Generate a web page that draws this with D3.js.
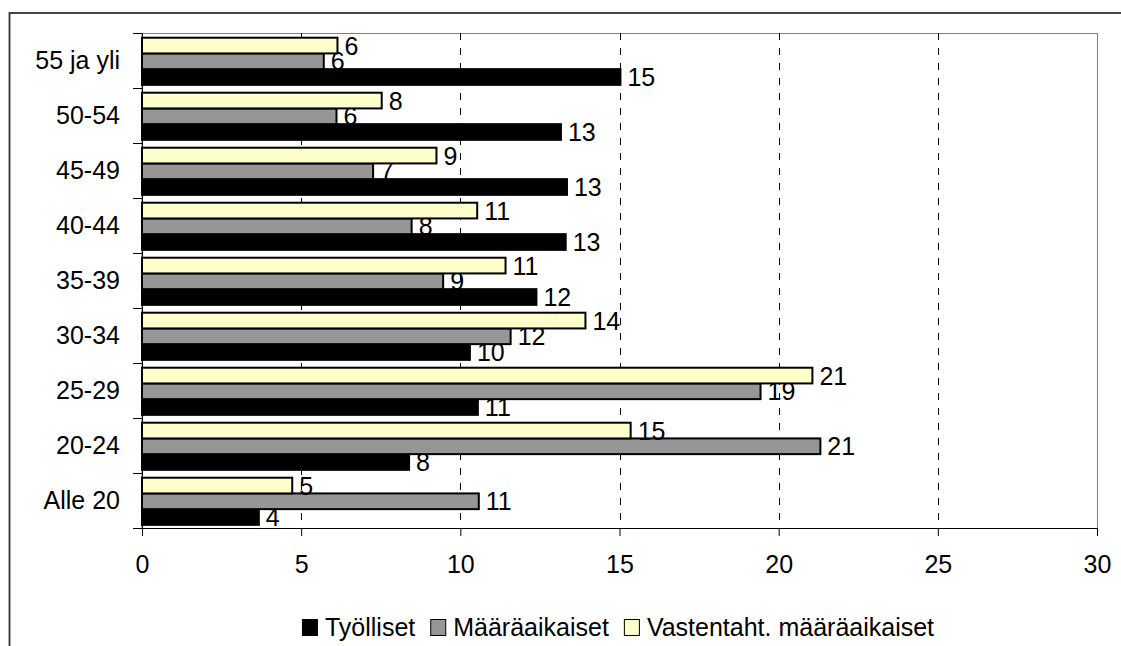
<!DOCTYPE html>
<html>
<head>
<meta charset="utf-8">
<script src="https://cdn.jsdelivr.net/npm/d3@7"></script>
<style>
  body { margin: 0; background: #fff; overflow: hidden; }
  svg { display: block; font-family: 'Liberation Sans', Arial, sans-serif; }
</style>
</head>
<body>
<div id="chart"></div>
<script>
const categories = ['Alle 20', '20-24', '25-29', '30-34', '35-39', '40-44', '45-49', '50-54', '55 ja yli']
const tyolliset = [3.67, 8.39, 10.55, 10.30, 12.39, 13.31, 13.35, 13.16, 15.03]
const maaraaikaiset = [10.58, 21.31, 19.43, 11.58, 9.46, 8.47, 7.26, 6.11, 5.71]
const vastentaht = [4.72, 15.35, 21.06, 13.93, 11.42, 10.53, 9.25, 7.53, 6.14]
const seriesNames = ['Työlliset', 'Määräaikaiset', 'Vastentaht. määräaikaiset']
const seriesColors = ['#000000', '#969696', '#ffffcc']
const xTicks = [0, 5, 10, 15, 20, 25, 30]

const width = 1121
const height = 646
const plot = { left: 142, top: 33, right: 1097, bottom: 528 }
const fontSize = 25

const svg = d3.select('#chart').append('svg').attr('width', width).attr('height', height)

// outer chart frame (cut off at right and bottom like the screenshot)
svg.append('rect')
  .attr('x', 9.5).attr('y', 13)
  .attr('width', 1200).attr('height', 700)
  .attr('fill', 'none').attr('stroke', '#333').attr('stroke-width', 1.8)

const x = d3.scaleLinear().domain([0, 30]).range([plot.left, plot.right])
const y = d3.scaleBand().domain(categories.slice().reverse()).range([plot.top, plot.bottom])
const inner = d3.scaleBand().domain([2, 1, 0]).range([0, y.bandwidth()]).paddingOuter(0.25).align(0.6)

// plot area border
svg.append('rect')
  .attr('x', plot.left).attr('y', plot.top + 0.5)
  .attr('width', plot.right - plot.left + 0.5).attr('height', plot.bottom - plot.top)
  .attr('fill', 'none').attr('stroke', '#808080').attr('stroke-width', 1)

svg.append('g')
  .selectAll('line')
  .data(xTicks.filter(d => d > 0 && d < 30))
  .enter()
  .append('line')
  .attr('x1', d => Math.round(x(d)) + 0.5)
  .attr('x2', d => Math.round(x(d)) + 0.5)
  .attr('y1', plot.top)
  .attr('y2', plot.bottom)
  .attr('stroke', '#000')
  .attr('stroke-dasharray', '7,8')

const series = [tyolliset, maaraaikaiset, vastentaht]

series.forEach(function (values, s) {
  const g = svg.append('g')
  const rows = categories.map((c, i) => ({ cat: c, value: values[i] }))

  g.selectAll('rect')
    .data(rows)
    .enter()
    .append('rect')
    .attr('x', x(0))
    .attr('y', d => y(d.cat) + inner(s))
    .attr('width', d => x(d.value) - x(0))
    .attr('height', inner.bandwidth())
    .attr('fill', seriesColors[s])
    .attr('stroke', '#000')
    .attr('stroke-width', 2)

  g.selectAll('text')
    .data(rows)
    .enter()
    .append('text')
    .attr('x', d => x(d.value) + 7)
    .attr('y', d => y(d.cat) + inner(s) + inner.bandwidth() / 2)
    .attr('dy', '0.36em')
    .attr('font-size', fontSize)
    .text(d => d3.format('.0f')(d.value))
})

// x axis
const xAxis = svg.append('g')
  .attr('transform', 'translate(0,' + plot.bottom + ')')
  .call(d3.axisBottom(x).tickValues(xTicks).tickSize(8).tickSizeOuter(0).tickPadding(19))
xAxis.select('.domain').attr('stroke', '#000')
xAxis.selectAll('text').attr('font-size', fontSize).attr('font-family', null).attr('fill', '#000')

// y axis
const yAxis = svg.append('g')
  .attr('transform', 'translate(' + plot.left + ',0)')
  .call(d3.axisLeft(y).tickSize(0).tickSizeOuter(0).tickPadding(22))
yAxis.select('.domain').attr('stroke', '#000')
yAxis.selectAll('text').attr('font-size', fontSize).attr('font-family', null).attr('fill', '#000')

svg.append('g')
  .selectAll('line')
  .data(categories.map(c => y(c)).concat([plot.bottom]))
  .enter()
  .append('line')
  .attr('x1', plot.left - 9)
  .attr('x2', plot.left)
  .attr('y1', d => Math.round(d) + 0.5)
  .attr('y2', d => Math.round(d) + 0.5)
  .attr('stroke', '#000')

// legend
const legend = svg.append('g')
let cursor = 0
seriesNames.forEach(function (name, i) {
  const item = legend.append('g').attr('transform', 'translate(' + cursor + ',0)')
  item.append('rect')
    .attr('x', 0.5).attr('y', 619.5)
    .attr('width', 15).attr('height', 16)
    .attr('fill', seriesColors[i]).attr('stroke', '#000')
  const t = item.append('text')
    .attr('x', 23).attr('y', 636)
    .attr('font-size', fontSize)
    .text(name)
  cursor += 23 + t.node().getComputedTextLength() + 15
})
const legendWidth = cursor - 15
legend.attr('transform', 'translate(' + (618 - legendWidth / 2) + ',0)')
</script>
</body>
</html>
